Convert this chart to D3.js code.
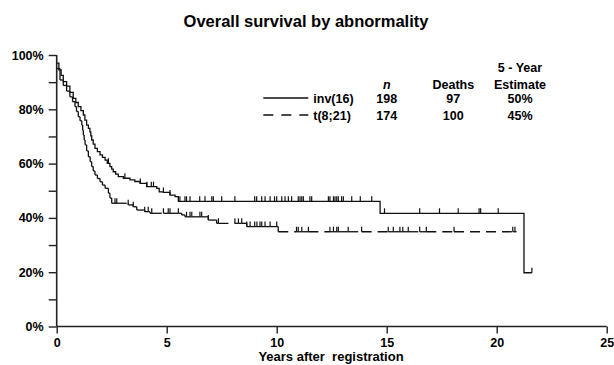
<!DOCTYPE html>
<html>
<head>
<meta charset="utf-8">
<script src="https://cdn.jsdelivr.net/npm/d3@7/dist/d3.min.js"></script>
<style>
  body { margin: 0; background: #fff; }
  text { font-family: "Liberation Sans", Arial, Helvetica, sans-serif; font-weight: bold; fill: #000; }
</style>
</head>
<body>
<div id="chart"></div>
<script>
// axis ticks
const xTicks = [0, 5, 10, 15, 20, 25];
const yTicks = [0, 10, 20, 30, 40, 50, 60, 70, 80, 90, 100];

// inv(16): step times (years) and survival (%) after each step
const invTimes = [0, 0.1, 0.2, 0.3, 0.45, 0.6, 0.75, 0.87, 0.98, 1.1, 1.21, 1.28, 1.36, 1.44, 1.51, 1.55, 1.59, 1.66, 1.74, 1.85, 1.97, 2.08, 2.2, 2.3, 2.42, 2.5, 2.57, 2.68, 2.8, 3.03, 3.33, 3.55, 3.79, 4.09, 4.55, 4.66, 4.85, 5.15, 5.38, 5.53, 14.7, 21.24];
const invSurv = [97.0, 94.5, 92.5, 90.2, 88.5, 86.2, 84.0, 82.5, 81.0, 79.5, 77.9, 76.0, 74.2, 73.0, 71.7, 70.2, 68.7, 67.2, 65.6, 64.4, 63.2, 62.3, 61.3, 60.1, 58.9, 58.0, 57.0, 56.1, 55.2, 54.6, 54.0, 53.4, 52.7, 51.5, 50.9, 49.6, 49.4, 48.4, 47.8, 46.1, 41.7, 19.8];
const invEnd = 21.6;
const invCensor = [2.35, 3.1, 3.8, 4.1, 4.3, 4.4, 4.85, 5.15, 5.6, 5.83, 5.9, 6.06, 6.5, 6.74, 7.05, 7.12, 7.5, 8.1, 9.0, 9.09, 9.32, 9.47, 9.7, 9.9, 10.0, 10.23, 10.38, 10.53, 10.68, 10.98, 11.06, 11.14, 11.21, 11.51, 11.59, 12.35, 12.42, 12.58, 12.65, 12.73, 12.8, 12.95, 13.03, 13.41, 13.8, 14.32, 14.9, 16.5, 17.4, 18.25, 19.2, 19.27, 20.07, 21.6];

// t(8;21)
const t821Times = [0, 0.15, 0.3, 0.45, 0.6, 0.72, 0.83, 0.9, 0.98, 1.06, 1.14, 1.18, 1.21, 1.25, 1.29, 1.36, 1.44, 1.52, 1.59, 1.66, 1.74, 1.85, 1.97, 2.08, 2.2, 2.35, 2.42, 2.5, 3.25, 3.48, 3.64, 4.0, 4.24, 5.68, 5.83, 6.89, 7.27, 8.64, 10.07];
const t821Surv = [95.0, 90.8, 88.8, 86.7, 84.6, 82.8, 81.0, 79.2, 77.3, 75.8, 74.2, 72.3, 70.5, 68.7, 66.9, 64.7, 62.5, 60.7, 58.9, 57.3, 55.8, 54.5, 53.3, 52.1, 50.9, 49.1, 47.3, 45.4, 44.8, 44.1, 42.9, 42.3, 41.7, 41.1, 40.4, 39.2, 38.0, 36.8, 34.9];
const t821End = 20.9;
const t821Censor = [2.65, 2.73, 3.25, 3.48, 4.0, 4.16, 4.32, 4.85, 5.07, 5.15, 5.53, 5.9, 6.06, 6.14, 6.51, 6.59, 6.89, 7.35, 8.1, 8.26, 8.41, 8.64, 8.79, 9.0, 9.1, 9.24, 9.32, 9.47, 9.7, 10.0, 10.9, 10.98, 11.14, 11.44, 12.42, 12.58, 12.73, 12.8, 13.25, 13.86, 15.07, 15.3, 15.6, 15.73, 15.98, 16.5, 16.8, 18.06, 20.73, 20.83];

// legend table
const legendLabels = ['inv(16)', 't(8;21)'];
const legendN = [198, 174];
const legendDeaths = [97, 100];
const legendEstimate = ['50%', '45%'];

const W = 614, H = 365;
const M = {top: 55, right: 7.3, bottom: 38.5, left: 56.7};

const svg = d3.select('#chart').append('svg')
  .attr('width', W)
  .attr('height', H);

const x = d3.scaleLinear().domain([0, 25]).range([M.left, W - M.right]);
const y = d3.scaleLinear().domain([0, 100]).range([H - M.bottom, M.top]);

// title
svg.append('text')
  .attr('x', 306).attr('y', 27)
  .attr('text-anchor', 'middle')
  .style('font-size', '16.5px')
  .text('Overall survival by abnormality');

// axes
const xAxis = d3.axisBottom(x).tickValues(xTicks).tickSize(7).tickPadding(5);
const xg = svg.append('g')
  .attr('transform', 'translate(0,' + y(0) + ')')
  .call(xAxis);

const yAxis = d3.axisLeft(y).tickValues(yTicks).tickSize(8).tickPadding(5)
  .tickFormat(function (d) { return d % 20 === 0 ? d + '%' : ''; });
const yg = svg.append('g')
  .attr('transform', 'translate(' + x(0) + ',0)')
  .call(yAxis);

[xg, yg].forEach(g => {
  g.select('.domain').attr('stroke', '#222').attr('stroke-width', 1.6);
  g.selectAll('.tick line').attr('stroke', '#222').attr('stroke-width', 1.4);
  g.selectAll('.tick text')
    .style('font-size', '12.5px')
    .style('font-family', '"Liberation Sans", Arial, sans-serif')
    .style('font-weight', 'bold')
    .attr('fill', '#000');
});
// axis lines meet at the origin without the default outer ticks
xg.select('.domain').attr('d', 'M' + x(0) + ',0H' + x(25));
yg.select('.domain').attr('d', 'M0,' + y(0) + 'V' + y(100));

svg.append('text')
  .attr('x', 331).attr('y', 361)
  .attr('text-anchor', 'middle')
  .style('font-size', '13px')
  .style('white-space', 'pre')
  .text('Years after  registration');

// helpers
function survAt(times, surv, t) {
  let s = surv[0];
  for (let i = 0; i < times.length; i++) {
    if (times[i] <= t) s = surv[i];
  }
  return s;
}

function stepData(times, surv, end) {
  const pts = times.map((t, i) => [t, surv[i]]);
  pts.push([end, surv[surv.length - 1]]);
  return pts;
}

const lineFunction = d3.line()
  .x(d => x(d[0]))
  .y(d => y(d[1]))
  .curve(d3.curveStepAfter);

// inv(16) solid
svg.append('path')
  .attr('d', lineFunction(stepData(invTimes, invSurv, invEnd)))
  .attr('fill', 'none')
  .attr('stroke', '#111')
  .attr('stroke-width', 1.3);

// t(8;21) dashed: every horizontal piece gets its own dash pattern
const hSegs = [];
const vSegs = [];
t821Times.forEach((t, i) => {
  const next = i + 1 < t821Times.length ? t821Times[i + 1] : t821End;
  const cuts = t821Censor.filter(c => c > t && c < next);
  const stops = [t].concat(cuts, [next]);
  for (let k = 0; k < stops.length - 1; k++) {
    hSegs.push({x1: stops[k], x2: stops[k + 1], s: t821Surv[i]});
  }
  if (i + 1 < t821Times.length) {
    vSegs.push({t: next, s1: t821Surv[i], s2: t821Surv[i + 1]});
  }
});

svg.selectAll('.hseg')
  .data(hSegs)
  .enter()
  .append('line')
  .attr('x1', d => x(d.x1))
  .attr('x2', d => x(d.x2))
  .attr('y1', d => y(d.s))
  .attr('y2', d => y(d.s))
  .attr('stroke', '#111')
  .attr('stroke-width', 1.3)
  .attr('stroke-dasharray', '10,6');

svg.selectAll('.vseg')
  .data(vSegs)
  .enter()
  .append('line')
  .attr('x1', d => x(d.t))
  .attr('x2', d => x(d.t))
  .attr('y1', d => y(d.s1))
  .attr('y2', d => y(d.s2))
  .attr('stroke', '#111')
  .attr('stroke-width', 1.3);

// censor marks
function censorMarks(cens, times, surv) {
  svg.append('g').selectAll('line')
    .data(cens)
    .enter()
    .append('line')
    .attr('x1', d => x(d))
    .attr('x2', d => x(d))
    .attr('y1', d => y(survAt(times, surv, d)))
    .attr('y2', d => y(survAt(times, surv, d)) - 5)
    .attr('stroke', '#111')
    .attr('stroke-width', 1.2);
}
censorMarks(invCensor, invTimes, invSurv);
censorMarks(t821Censor, t821Times, t821Surv);

// legend
const colX = {line1: 263.3, line2: 308.3, label: 313.3, n: 386.7, deaths: 453.3, est: 520};
const rowY = [102.5, 119.5];
const lg = svg.append('g').style('font-size', '12.5px');

lg.append('text').attr('x', colX.est).attr('y', 72).attr('text-anchor', 'middle').text('5 - Year');
lg.append('text').attr('x', colX.n).attr('y', 88.5).attr('text-anchor', 'middle').style('font-style', 'italic').text('n');
lg.append('text').attr('x', colX.deaths).attr('y', 88.5).attr('text-anchor', 'middle').text('Deaths');
lg.append('text').attr('x', colX.est).attr('y', 88.5).attr('text-anchor', 'middle').text('Estimate');

legendLabels.forEach((lab, i) => {
  lg.append('line')
    .attr('x1', colX.line1).attr('x2', colX.line2)
    .attr('y1', rowY[i] - 4.5).attr('y2', rowY[i] - 4.5)
    .attr('stroke', '#111')
    .attr('stroke-width', 1.3)
    .attr('stroke-dasharray', i === 1 ? '10,8' : null);
  lg.append('text').attr('x', colX.label).attr('y', rowY[i]).text(lab);
  lg.append('text').attr('x', colX.n).attr('y', rowY[i]).attr('text-anchor', 'middle').text(legendN[i]);
  lg.append('text').attr('x', colX.deaths).attr('y', rowY[i]).attr('text-anchor', 'middle').text(legendDeaths[i]);
  lg.append('text').attr('x', colX.est).attr('y', rowY[i]).attr('text-anchor', 'middle').text(legendEstimate[i]);
});
</script>
</body>
</html>
